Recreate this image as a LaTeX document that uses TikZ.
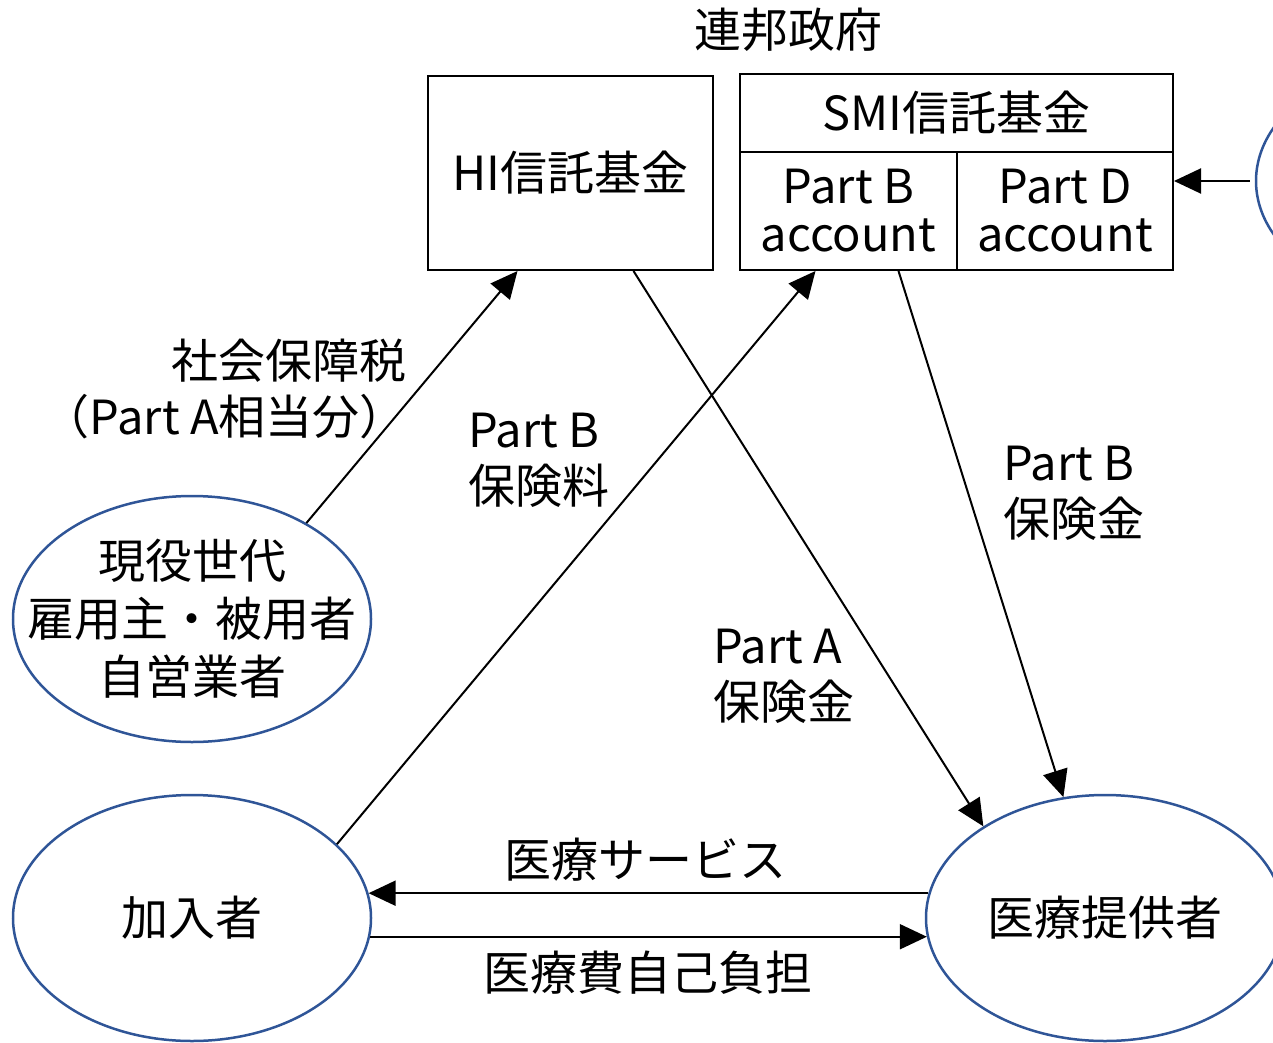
\documentclass[tikz,border=0pt]{standalone}
\usepackage{fontspec}
\setmainfont{Noto Sans CJK JP}
\usetikzlibrary{shapes.geometric,arrows.meta}
\definecolor{ellblue}{RGB}{47,85,151}
\begin{document}
\begin{tikzpicture}[x=1pt,y=-1pt,
  every node/.style={font=\fontsize{47}{56}\selectfont, inner sep=0pt},
  fund/.style={draw, line width=2pt, rectangle, align=center},
  party/.style={draw=ellblue, line width=2.5pt, ellipse, minimum width=358pt, minimum height=246pt, align=center, font=\fontsize{47}{58}\selectfont},
  flow/.style={line width=2pt, -{Triangle[length=27pt,width=25pt]}},
  lbl/.style={align=left, anchor=west}]
\useasboundingbox (0,0) rectangle (1273,1043);
\clip (0,0) rectangle (1273,1043);
% title
\node (gov) at (788,30) {連邦政府};
% funds
\node[fund, minimum width=285pt, minimum height=194pt] (hi) at (570.5,173) {HI信託基金};
\node[fund, minimum width=433pt, minimum height=78pt] (smitop) at (956.5,113) {SMI信託基金};
\node[fund, minimum width=217pt, minimum height=118pt, font=\fontsize{47}{48}\selectfont] (partb) at (848.5,211) {Part B\\account};
\node[fund, minimum width=216pt, minimum height=118pt, font=\fontsize{47}{48}\selectfont] (partd) at (1065,211) {Part D\\account};
% parties
\node[party] (ext) at (1435,181) {};
\node[party, inner xsep=-45pt, inner ysep=-5pt] (gen) at (192,619) {現役世代\\雇用主・被用者\\自営業者};
\node[party] (sub) at (192,918) {加入者};
\node[party] (prov) at (1105,918) {医療提供者};
% connectors
\draw[flow] (gen.40) -- ([xshift=-53pt]hi.south);
\draw[flow] (sub.27) -- ([xshift=-33pt]partb.south);
\draw[flow] ([xshift=63pt]hi.south) -- (prov.143);
\draw[flow] ([xshift=50pt]partb.south) -- (prov.109);
\draw[flow] (prov.172) -- (sub.8);
\draw[flow] (sub.-6.5) -- (prov.186.5);
\draw[flow] ([xshift=-5pt]ext.west) -- (ext.west -| partd.east);
% labels
\node[align=right, anchor=east] (taxlbl) at (407,389) {社会保障税\\（Part A相当分）};
\node[lbl] (bprem) at (468,460) {Part B\\保険料};
\node[lbl] (aben) at (713,676) {Part A\\保険金};
\node[lbl] (bben) at (1003,493) {Part B\\保険金};
\node (svc) at (645,860) {医療サービス};
\node (oop) at (648,973) {医療費自己負担};
\end{tikzpicture}
\end{document}
